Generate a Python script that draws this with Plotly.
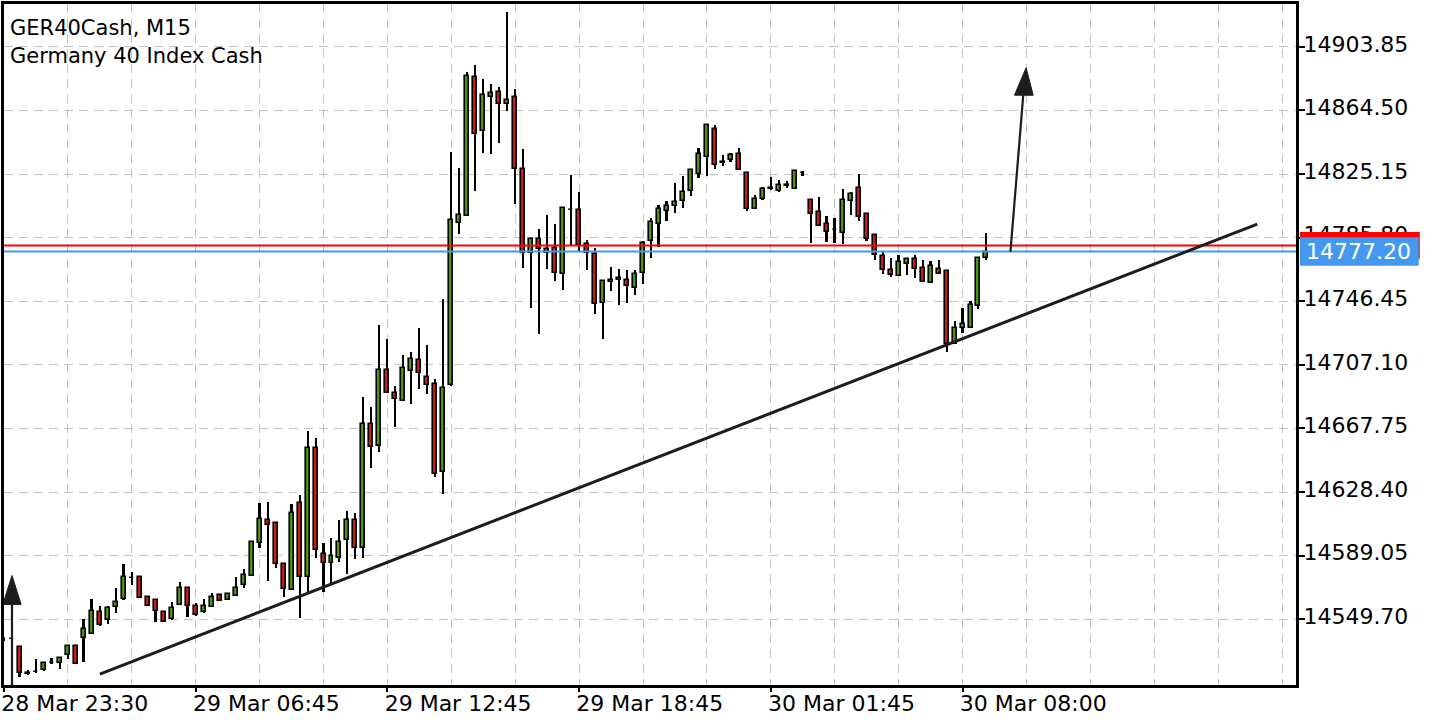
import plotly.graph_objects as go

# ---------------- data ----------------
bar_index = list(range(124))

opens = [14537.4, 14537.4, 14532.5, 14515.8, 14517.1, 14518.3, 14522.6, 14522.6, 14527.5, 14533.1,
         14538.0, 14540.5, 14554.0, 14549.1, 14557.1, 14562.0, 14575.0, 14575.6, 14563.3, 14561.4,
         14554.0, 14549.7, 14558.3, 14568.8, 14557.7, 14554.0, 14557.1, 14564.5, 14561.4, 14563.9,
         14570.7, 14576.2, 14597.1, 14611.3, 14609.4, 14584.2, 14567.6, 14621.8, 14575.6, 14655.6,
         14590.4, 14584.8, 14587.9, 14599.0, 14611.3, 14594.0, 14670.4, 14656.9, 14703.7, 14689.5,
         14684.6, 14703.1, 14709.8, 14699.4, 14695.1, 14640.9, 14694.4, 14794.8, 14799.1, 14885.4,
         14851.5, 14872.5, 14876.1, 14868.7, 14873.1, 14828.1, 14776.4, 14785.0, 14778.8, 14779.4,
         14763.4, 14802.8, 14802.8, 14781.9, 14775.7, 14745.6, 14758.5, 14759.7, 14759.7, 14754.8,
         14764.0, 14783.7, 14794.2, 14802.2, 14805.3, 14808.4, 14814.5, 14825.0, 14835.5, 14852.7,
         14831.8, 14833.6, 14837.3, 14825.6, 14803.5, 14809.6, 14815.8, 14814.5, 14817.6, 14815.8,
         14825.6, 14809.0, 14801.6, 14794.2, 14790.5, 14788.7, 14808.4, 14816.4, 14800.4, 14787.4,
         14774.5, 14765.9, 14762.2, 14769.6, 14772.7, 14767.1, 14757.9, 14766.5, 14765.3, 14720.3,
         14729.6, 14730.2, 14743.7, 14773.3]
highs = [14538.0, 14538.0, 14533.1, 14518.3, 14525.1, 14523.2, 14525.7, 14526.3, 14533.7, 14533.7,
         14549.7, 14562.0, 14557.7, 14557.7, 14568.8, 14584.2, 14578.7, 14576.2, 14563.3, 14562.0,
         14554.6, 14560.2, 14572.5, 14568.8, 14559.6, 14562.0, 14565.7, 14565.1, 14565.7, 14575.6,
         14581.1, 14598.4, 14621.8, 14622.4, 14609.4, 14584.2, 14621.2, 14626.7, 14666.1, 14661.8,
         14597.1, 14600.2, 14611.3, 14616.8, 14615.6, 14687.0, 14680.9, 14732.0, 14723.4, 14693.8,
         14713.5, 14714.8, 14730.2, 14719.1, 14698.1, 14748.0, 14838.6, 14828.7, 14888.5, 14892.8,
         14884.2, 14881.1, 14879.2, 14925.4, 14878.0, 14840.4, 14785.6, 14791.1, 14799.8, 14794.2,
         14804.7, 14824.4, 14813.9, 14784.4, 14779.4, 14759.1, 14767.7, 14766.5, 14765.9, 14765.9,
         14783.7, 14797.9, 14805.9, 14808.4, 14819.5, 14823.8, 14827.5, 14841.0, 14855.2, 14855.2,
         14836.7, 14837.9, 14841.0, 14826.3, 14812.1, 14817.0, 14823.2, 14821.3, 14820.7, 14826.9,
         14826.9, 14809.6, 14810.8, 14799.1, 14797.9, 14815.8, 14813.9, 14825.0, 14800.4, 14787.4,
         14777.6, 14773.3, 14775.1, 14773.3, 14775.1, 14772.0, 14771.4, 14772.0, 14765.3, 14734.5,
         14742.5, 14746.8, 14773.3, 14788.7]
lows = [14536.8, 14536.8, 14514.0, 14515.2, 14516.5, 14517.7, 14522.0, 14518.9, 14525.1, 14522.0,
        14523.2, 14540.5, 14545.4, 14546.6, 14553.4, 14561.4, 14570.7, 14562.6, 14557.7, 14547.9,
        14547.9, 14549.1, 14558.3, 14550.9, 14551.6, 14553.4, 14557.1, 14560.8, 14561.4, 14563.9,
        14568.8, 14576.2, 14594.0, 14573.1, 14581.7, 14563.3, 14567.6, 14550.3, 14565.7, 14587.9,
        14566.3, 14570.7, 14585.4, 14578.0, 14586.7, 14587.9, 14643.3, 14653.2, 14689.5, 14668.6,
        14684.6, 14682.7, 14692.0, 14688.9, 14637.8, 14627.3, 14693.8, 14788.1, 14799.1, 14814.5,
        14838.0, 14837.3, 14844.1, 14864.4, 14806.5, 14767.1, 14742.5, 14725.9, 14766.5, 14759.1,
        14753.6, 14780.7, 14777.6, 14765.9, 14738.8, 14722.8, 14753.0, 14744.3, 14745.6, 14750.5,
        14757.3, 14773.3, 14780.0, 14796.1, 14801.0, 14804.1, 14811.5, 14822.6, 14823.8, 14828.1,
        14829.9, 14832.4, 14827.5, 14802.2, 14803.5, 14809.0, 14815.2, 14813.9, 14816.4, 14815.8,
        14823.8, 14782.5, 14793.0, 14783.1, 14782.5, 14781.9, 14799.8, 14796.1, 14783.7, 14772.0,
        14763.4, 14761.6, 14762.2, 14762.8, 14761.0, 14758.5, 14757.9, 14763.4, 14714.8, 14720.3,
        14727.1, 14730.2, 14741.9, 14772.0]
closes = [14537.6, 14537.6, 14516.5, 14516.5, 14517.3, 14522.6, 14522.8, 14525.7, 14533.1, 14522.0,
          14543.5, 14554.6, 14546.0, 14556.5, 14560.2, 14575.6, 14575.2, 14562.6, 14557.7, 14554.6,
          14547.9, 14556.5, 14568.8, 14557.7, 14552.2, 14557.7, 14563.3, 14560.8, 14565.1, 14568.8,
          14576.8, 14597.7, 14611.9, 14608.2, 14583.6, 14568.2, 14615.6, 14575.6, 14655.6, 14592.8,
          14584.8, 14589.1, 14597.7, 14611.3, 14594.0, 14670.4, 14656.3, 14703.7, 14689.5, 14685.8,
          14704.9, 14710.5, 14701.8, 14694.4, 14639.6, 14692.6, 14796.7, 14799.8, 14886.0, 14849.7,
          14874.3, 14875.5, 14868.7, 14871.2, 14828.1, 14776.4, 14785.0, 14778.8, 14776.4, 14764.0,
          14804.1, 14803.0, 14781.3, 14776.4, 14744.9, 14759.1, 14759.7, 14761.0, 14756.0, 14763.4,
          14782.5, 14795.5, 14803.5, 14805.3, 14807.8, 14813.9, 14827.5, 14837.3, 14855.2, 14830.6,
          14832.4, 14836.7, 14827.5, 14803.5, 14809.6, 14815.8, 14816.4, 14818.2, 14818.2, 14826.9,
          14825.8, 14800.4, 14793.0, 14789.3, 14790.7, 14809.0, 14812.7, 14798.5, 14785.0, 14775.1,
          14765.9, 14762.8, 14770.8, 14772.7, 14766.5, 14758.5, 14768.4, 14763.4, 14719.7, 14729.6,
          14732.6, 14744.3, 14773.3, 14777.2]

time_tick_index = [0, 24, 48, 72, 96, 120]
time_tick_labels = ["28 Mar 23:30", "29 Mar 06:45", "29 Mar 12:45",
                    "29 Mar 18:45", "30 Mar 01:45", "30 Mar 08:00"]
price_ticks = [14549.70, 14589.05, 14628.40, 14667.75, 14707.10,
               14746.45, 14785.80, 14825.15, 14864.50, 14903.85]

bid_price = 14777.20
ask_price = 14781.00
symbol_title = "GER40Cash, M15"
symbol_desc = "Germany 40 Index Cash"

# user drawn objects (anchor points in bar-index / price space)
trend_x = [12.0, 156.9]
trend_y = [14515.8, 14794.2]
up_arrow_x = [126.0, 127.6]          # stem start, stem end
up_arrow_y = [14777.0, 14873.8]
up_head = dict(tip=(127.96, 14890.9), left=(126.5, 14873.9), right=(128.85, 14873.9))
left_arrow = dict(x=1.0, tip=14576.8, base=14558.9, half=1.15, bottom=14509.0)

# ---------------- styling ----------------
GREEN = "#4a9410"
RED = "#c41f12"
GRID = "#c3c3c3"
FONT = "DejaVu Sans"

x_range = [0, 161.75]
y_range = [14509.05, 14930.33]

body_base = [min(o, c) for o, c in zip(opens, closes)]
body_h = [max(abs(c - o), 0.3) for o, c in zip(opens, closes)]
body_col = [GREEN if c > o else RED for o, c in zip(opens, closes)]
wick_h = [h - l for h, l in zip(highs, lows)]

fig = go.Figure()
fig.add_trace(go.Bar(x=bar_index, y=wick_h, base=lows, width=0.25,
                     marker=dict(color="black", line=dict(width=0)),
                     opacity=1, hoverinfo="skip"))
fig.add_trace(go.Bar(x=bar_index, y=body_h, base=body_base, width=0.5,
                     marker=dict(color=body_col, line=dict(color="black", width=1.6)),
                     opacity=1, hoverinfo="skip"))

shapes = []
# ask / bid lines
shapes.append(dict(type="line", xref="paper", yref="y", x0=0, x1=1, y0=ask_price, y1=ask_price,
                   line=dict(color="#ff0000", width=2), layer="above"))
shapes.append(dict(type="line", xref="paper", yref="y", x0=0, x1=1, y0=bid_price, y1=bid_price,
                   line=dict(color="#4499ee", width=2), layer="above"))
# trend line
shapes.append(dict(type="line", xref="x", yref="y", x0=trend_x[0], x1=trend_x[1],
                   y0=trend_y[0], y1=trend_y[1], line=dict(color="#1d1d1d", width=3), layer="above"))
# up arrow (right)
shapes.append(dict(type="line", xref="x", yref="y", x0=up_arrow_x[0], x1=up_arrow_x[1],
                   y0=up_arrow_y[0], y1=up_arrow_y[1], line=dict(color="#1d1d1d", width=2.2),
                   layer="above"))
t, l_, r_ = up_head["tip"], up_head["left"], up_head["right"]
shapes.append(dict(type="path", xref="x", yref="y",
                   path=f"M{t[0]},{t[1]} L{l_[0]},{l_[1]} L{r_[0]},{r_[1]} Z",
                   fillcolor="#1d1d1d", line=dict(color="#1d1d1d", width=1), layer="above"))
# old arrow (left)
la = left_arrow
shapes.append(dict(type="line", xref="x", yref="y", x0=la["x"], x1=la["x"],
                   y0=la["bottom"], y1=la["base"], line=dict(color="#1d1d1d", width=2.2),
                   layer="above"))
shapes.append(dict(type="path", xref="x", yref="y",
                   path=f"M{la['x']},{la['tip']} L{la['x'] - la['half']},{la['base']} "
                        f"L{la['x'] + la['half']},{la['base']} Z",
                   fillcolor="#1d1d1d", line=dict(color="#1d1d1d", width=1), layer="above"))
# price labels on the right scale
shapes.append(dict(type="rect", xref="paper", yref="y", x0=1.0031, x1=1.0958,
                   ysizemode="pixel", yanchor=ask_price, y0=-13.5, y1=13.5,
                   fillcolor="#ff0000", line=dict(width=0), layer="above"))
shapes.append(dict(type="rect", xref="paper", yref="y", x0=1.0031, x1=1.0950,
                   ysizemode="pixel", yanchor=bid_price, y0=-14.3, y1=14.3,
                   fillcolor="#4499ee", line=dict(width=0), layer="above"))

annotations = [
    dict(text=symbol_title, xref="paper", yref="paper", x=0.0031, y=0.9649,
         xanchor="left", yanchor="middle", showarrow=False,
         font=dict(family=FONT, size=21, color="black")),
    dict(text=symbol_desc, xref="paper", yref="paper", x=0.0031, y=0.9239,
         xanchor="left", yanchor="middle", showarrow=False,
         font=dict(family=FONT, size=21, color="black")),
    dict(text=f"{bid_price:.2f}", xref="paper", yref="y", x=1.0487, y=bid_price,
         xanchor="center", yanchor="middle", showarrow=False,
         font=dict(family=FONT, size=22, color="white")),
]

fig.update_layout(
    width=1440, height=720,
    margin=dict(l=2, r=144, t=1, b=35),
    paper_bgcolor="white", plot_bgcolor="white",
    barmode="overlay", bargap=0,
    showlegend=False,
    shapes=shapes, annotations=annotations,
    xaxis=dict(range=x_range, tickmode="array", tickvals=time_tick_index,
               ticktext=time_tick_labels, ticklabelposition="outside right",
               ticklabelshift=-5, ticklabelstandoff=-3,
               ticks="outside", ticklen=4, tickwidth=1.5, tickcolor="black",
               tickfont=dict(family=FONT, size=22, color="black"),
               showgrid=True, gridcolor=GRID, gridwidth=1, griddash="9px,6px",
               minor=dict(tick0=0, dtick=8, showgrid=True, gridcolor=GRID,
                          gridwidth=1, griddash="9px,6px", ticks=""),
               showline=True, linecolor="black", linewidth=3, mirror=True,
               zeroline=False, fixedrange=True),
    yaxis=dict(range=y_range, side="right", tickmode="array", tickvals=price_ticks,
               ticktext=[f"{v:.2f}" for v in price_ticks],
               ticklabelstandoff=-6, ticklabelshift=-3,
               ticks="outside", ticklen=6, tickwidth=1.5, tickcolor="black",
               tickfont=dict(family=FONT, size=22, color="black"),
               showgrid=True, gridcolor=GRID, gridwidth=1, griddash="9px,6px",
               showline=True, linecolor="black", linewidth=3, mirror=True,
               zeroline=False, fixedrange=True),
)

fig.write_html("out.html", include_plotlyjs=True, full_html=True,
               config={"displayModeBar": False},
               post_script="document.body.style.margin='0px';document.body.style.overflow='hidden';")
